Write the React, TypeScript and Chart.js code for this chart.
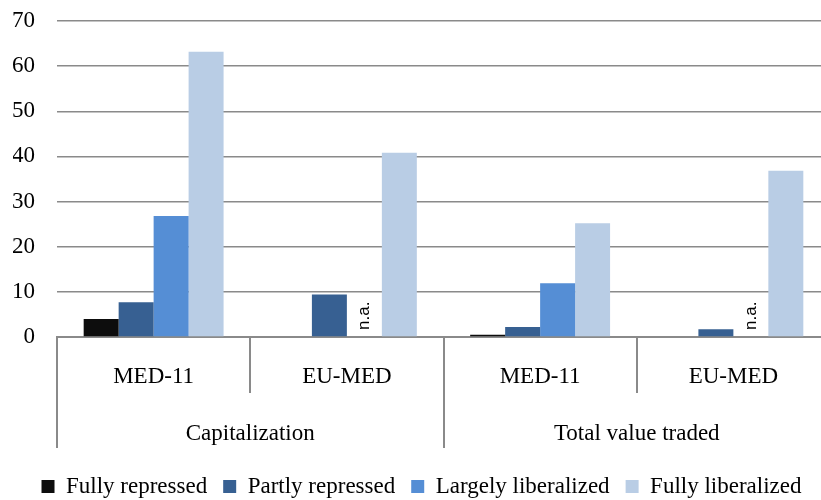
import React, { useEffect, useRef } from 'react';
import { Chart, registerables } from 'chart.js';

Chart.register(...registerables);

const categories = ['MED-11', 'EU-MED', 'MED-11', 'EU-MED'];
const groups = ['Capitalization', 'Total value traded'];
const seriesNames = ['Fully repressed', 'Partly repressed', 'Largely liberalized', 'Fully liberalized'];
const fullyRepressed: (number | null)[] = [4.0, null, 0.5, null];
const partlyRepressed: (number | null)[] = [7.7, 9.4, 2.2, 1.7];
const largelyLiberalized: (number | null)[] = [26.8, null, 11.9, null];
const fullyLiberalized: (number | null)[] = [63.2, 40.8, 25.2, 36.8];
const largelyLiberalizedNotes: (string | null)[] = [null, 'n.a.', null, 'n.a.'];
const yMin = 0;
const yMax = 70;
const yStep = 10;

const colors = ['#0d0d0d', '#376092', '#558ed5', '#b9cde5'];
const serif = "'Liberation Serif', 'Times New Roman', serif";
const gridColor = '#8a8a8a';
const fontSize = 23;

const naPlugin = {
  id: 'naLabels',
  afterDatasetsDraw(chart: any) {
    const ctx = chart.ctx;
    const meta = chart.getDatasetMeta(2);
    const yScale = chart.scales.y;
    ctx.save();
    ctx.fillStyle = '#000';
    ctx.font = "17px 'Liberation Sans', Arial, sans-serif";
    ctx.textAlign = 'left';
    ctx.textBaseline = 'middle';
    largelyLiberalizedNotes.forEach((note, i) => {
      if (!note) return;
      const el = meta.data[i];
      if (!el) return;
      const x = el.x;
      const y = yScale.getPixelForValue(0) - 7;
      ctx.save();
      ctx.translate(x, y);
      ctx.rotate(-Math.PI / 2);
      ctx.fillText(note, 0, 0);
      ctx.restore();
    });
    ctx.restore();
  },
};

export default function App() {
  const ref = useRef<HTMLCanvasElement | null>(null);
  useEffect(() => {
    if (!ref.current) return;
    const series = [fullyRepressed, partlyRepressed, largelyLiberalized, fullyLiberalized];
    const chart = new Chart(ref.current, {
      type: 'bar',
      data: {
        labels: categories,
        datasets: series.map((d, i) => ({
          label: seriesNames[i],
          data: d,
          backgroundColor: colors[i],
          borderWidth: 0,
          categoryPercentage: 0.724,
          barPercentage: 1.0,
        })),
      },
      options: {
        responsive: false,
        animation: false,
        devicePixelRatio: 1,
        layout: { padding: { top: 21, right: 13, left: 13, bottom: 0 } },
        plugins: {
          tooltip: { enabled: false },
          legend: {
            position: 'bottom',
            labels: {
              boxWidth: 13,
              boxHeight: 13,
              padding: 16,
              color: '#000',
              font: { family: serif, size: fontSize },
            },
          },
        },
        scales: {
          x: {
            type: 'category',
            position: 'bottom',
            offset: true,
            grid: {
              display: true,
              drawOnChartArea: false,
              offset: true,
              tickLength: 56,
              color: gridColor,
              lineWidth: 2,
            },
            border: { display: true, color: gridColor, width: 2 },
            ticks: {
              color: '#000',
              font: { family: serif, size: fontSize },
              padding: -30,
              maxRotation: 0,
              autoSkip: false,
            },
            afterFit: (s: any) => { s.height = 56; },
          },
          x2: {
            type: 'category',
            position: 'bottom',
            labels: groups,
            offset: true,
            grid: {
              display: true,
              drawOnChartArea: false,
              offset: true,
              tickLength: 55,
              color: gridColor,
              lineWidth: 2,
            },
            border: { display: false },
            ticks: {
              color: '#000',
              font: { family: serif, size: fontSize },
              padding: -27.5,
              maxRotation: 0,
              autoSkip: false,
            },
            afterFit: (s: any) => { s.height = 66; },
          },
          y: {
            min: yMin,
            max: yMax,
            grid: { color: gridColor, lineWidth: 1.5, drawTicks: false },
            border: { display: false },
            ticks: {
              stepSize: yStep,
              padding: 22,
              color: '#000',
              font: { family: serif, size: fontSize },
            },
            afterFit: (s: any) => { s.width = 44; s.paddingTop = 0; s.paddingBottom = 0; },
          },
        },
      },
      plugins: [naPlugin],
    } as any);
    return () => chart.destroy();
  }, []);
  return (
    <div style={{ position: 'absolute', left: 0, top: 0, width: 821, height: 500, overflow: 'hidden', background: '#fff' }}>
      <canvas ref={ref} width={843} height={508} style={{ display: 'block' }} />
    </div>
  );
}
